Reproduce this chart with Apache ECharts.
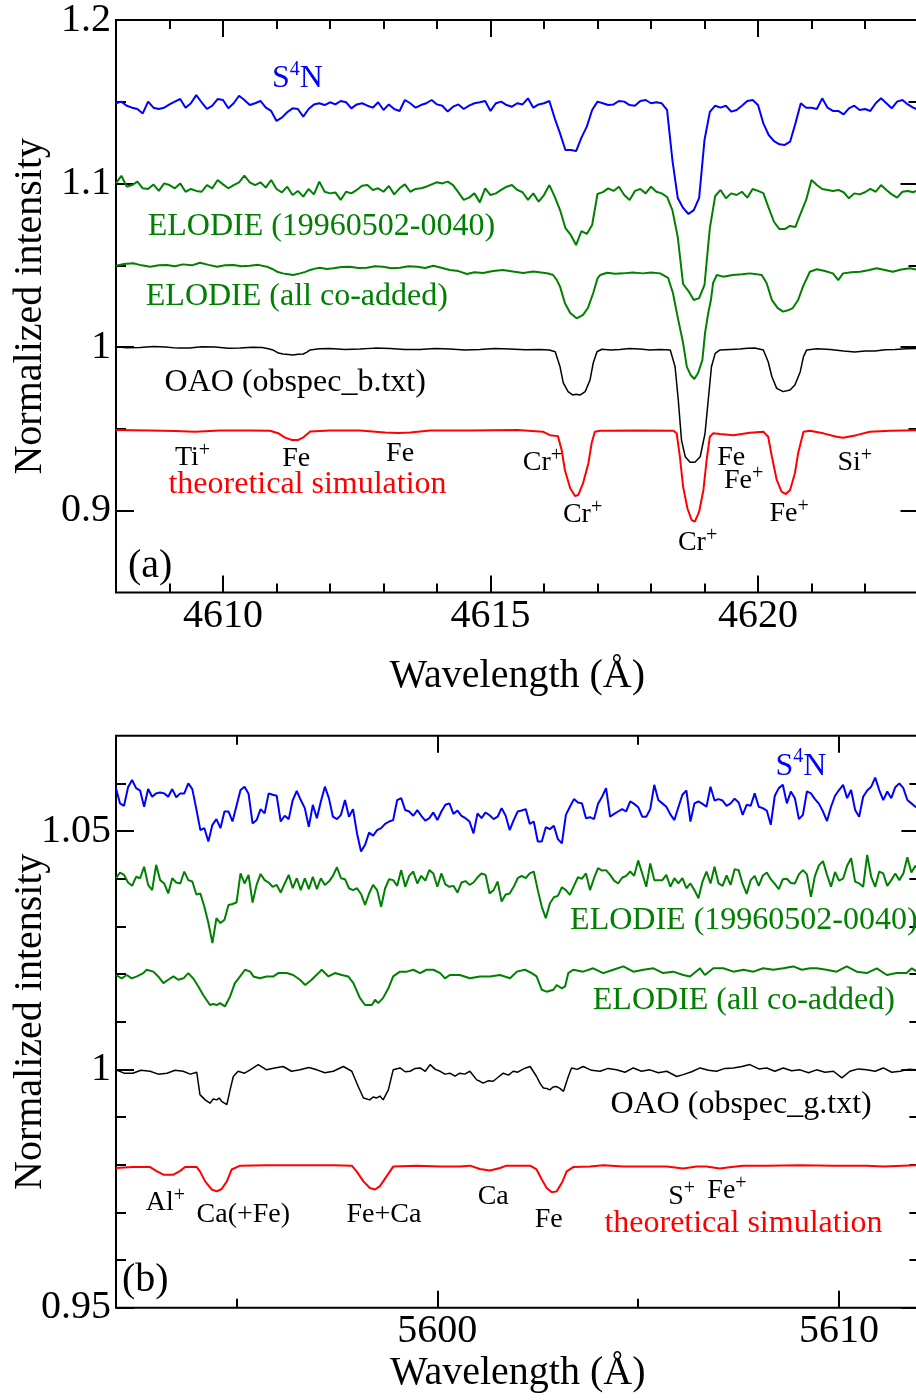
<!DOCTYPE html>
<html><head><meta charset="utf-8">
<script src="https://cdn.jsdelivr.net/npm/echarts@6/dist/echarts.min.js"></script>
<style>html,body{margin:0;padding:0;background:#fff}#c{width:916px;height:1400px}</style>
</head><body><div id="c"></div>
<script>
// ---------- Panel (a) : 4608-4623 A ----------
const wlA = [
4608,4608.1,4608.2,4608.3,4608.4,4608.5,4608.6,4608.7,4608.8,4608.9,
4609,4609.1,4609.2,4609.3,4609.4,4609.5,4609.6,4609.7,4609.8,4609.9,
4610,4610.1,4610.2,4610.3,4610.4,4610.5,4610.6,4610.7,4610.8,4610.9,
4611,4611.1,4611.2,4611.3,4611.4,4611.5,4611.6,4611.7,4611.8,4611.9,
4612,4612.1,4612.2,4612.3,4612.4,4612.5,4612.6,4612.7,4612.8,4612.9,
4613,4613.1,4613.2,4613.3,4613.4,4613.5,4613.6,4613.7,4613.8,4613.9,
4614,4614.1,4614.2,4614.3,4614.4,4614.5,4614.6,4614.7,4614.8,4614.9,
4615,4615.1,4615.2,4615.3,4615.4,4615.5,4615.6,4615.7,4615.8,4615.9,
4616,4616.1,4616.2,4616.3,4616.4,4616.5,4616.6,4616.7,4616.8,4616.9,
4617,4617.1,4617.2,4617.3,4617.4,4617.5,4617.6,4617.7,4617.8,4617.9,
4618,4618.1,4618.2,4618.3,4618.4,4618.5,4618.6,4618.7,4618.8,4618.9,
4619,4619.1,4619.2,4619.3,4619.4,4619.5,4619.6,4619.7,4619.8,4619.9,
4620,4620.1,4620.2,4620.3,4620.4,4620.5,4620.6,4620.7,4620.8,4620.9,
4621,4621.1,4621.2,4621.3,4621.4,4621.5,4621.6,4621.7,4621.8,4621.9,
4622,4622.1,4622.2,4622.3,4622.4,4622.5,4622.6,4622.7,4622.8,4622.9,
4623];
const s4nA = [
1.1491,1.1501,1.1476,1.1464,1.1456,1.1429,1.1501,1.1464,1.1456,1.1464,
1.1484,1.1501,1.1517,1.1464,1.1491,1.1541,1.1497,1.1456,1.1476,1.1517,
1.1511,1.1460,1.1491,1.1537,1.1511,1.1480,1.1491,1.1505,1.1464,1.1444,
1.1383,1.1403,1.1436,1.1460,1.1456,1.1409,1.1456,1.1484,1.1491,1.1480,
1.1497,1.1484,1.1505,1.1497,1.1460,1.1484,1.1491,1.1476,1.1464,1.1497,
1.1450,1.1484,1.1456,1.1444,1.1511,1.1491,1.1464,1.1480,1.1491,1.1511,
1.1484,1.1476,1.1440,1.1470,1.1484,1.1456,1.1476,1.1491,1.1497,1.1505,
1.1444,1.1491,1.1501,1.1480,1.1470,1.1491,1.1484,1.1521,1.1464,1.1484,
1.1491,1.1505,1.1399,1.1307,1.1205,1.1205,1.1199,1.1281,1.1348,1.1450,
1.1501,1.1491,1.1480,1.1484,1.1505,1.1501,1.1480,1.1476,1.1505,1.1511,
1.1491,1.1497,1.1491,1.1450,1.1144,1.0912,1.0851,1.0814,1.0838,1.0912,
1.1266,1.1438,1.1476,1.1464,1.1476,1.1440,1.1450,1.1476,1.1505,1.1511,
1.1480,1.1368,1.1297,1.1260,1.1240,1.1236,1.1256,1.1368,1.1491,1.1464,
1.1464,1.1456,1.1521,1.1464,1.1444,1.1444,1.1423,1.1460,1.1476,1.1450,
1.1456,1.1444,1.1491,1.1521,1.1491,1.1460,1.1501,1.1511,1.1484,1.1464,1.1450];
const elodieOneA = [
1.1001,1.1048,1.0981,1.0991,1.1012,1.0971,1.0967,1.0995,1.0955,1.1001,
1.0991,1.0971,1.1001,1.0950,1.0967,1.0955,1.0950,1.0991,1.0971,1.1022,
1.0995,1.0971,1.0991,1.1008,1.1048,1.1008,1.0991,1.1008,1.0975,1.1022,
1.0967,1.0946,1.0981,1.0930,1.0955,1.0920,1.0967,1.0934,1.1012,1.0950,
1.0940,1.0946,1.0900,1.0950,1.0940,1.0961,1.0987,1.0991,1.0961,1.0971,
1.0950,1.0985,1.0934,1.0971,1.0995,1.0950,1.0967,1.0971,1.0981,1.0995,
1.1008,1.1001,1.1012,1.0991,1.0946,1.0900,1.0914,1.0940,1.0885,1.0971,
1.0930,1.0940,1.0961,1.0981,1.0991,1.0961,1.0947,1.0900,1.0940,1.0889,
1.0930,1.0991,1.0920,1.0838,1.0728,1.0686,1.0624,1.0710,1.0692,1.0747,
1.0936,1.0948,1.0971,1.0955,1.0981,1.0930,1.0900,1.0955,1.0967,1.0940,
1.0981,1.0950,1.0940,1.0918,1.0838,1.0673,1.0386,1.0343,1.0288,1.0300,
1.0380,1.0728,1.0924,1.0961,1.0910,1.0940,1.0930,1.0950,1.0914,1.0967,
1.0955,1.0942,1.0851,1.0765,1.0722,1.0722,1.0741,1.0735,1.0820,1.0900,
1.1022,1.0991,1.0967,1.0961,1.0955,1.0961,1.0947,1.0910,1.0940,1.0934,
1.0947,1.0967,1.0950,1.0991,1.0961,1.0934,1.0914,1.0950,1.0955,1.0947,1.0961];
const elodieAllA = [
[4608.0,1.0498],[4608.15,1.0508],[4608.32,1.0513],[4608.48,1.0500],[4608.64,1.0492],[4608.8,1.0500],[4608.95,1.0502],[4609.1,1.0494],[4609.25,1.0506],[4609.42,1.0500],[4609.57,1.0516],[4609.73,1.0503],[4609.89,1.0492],[4610.04,1.0500],[4610.19,1.0502],[4610.35,1.0494],[4610.5,1.0498],[4610.66,1.0503],[4610.82,1.0492],[4610.92,1.0478],[4611.01,1.0461],[4611.12,1.0451],[4611.22,1.0446],[4611.31,1.0441],[4611.44,1.0451],[4611.54,1.0460],[4611.63,1.0472],[4611.72,1.0480],[4611.81,1.0486],[4611.94,1.0478],[4612.06,1.0482],[4612.22,1.0490],[4612.37,1.0492],[4612.53,1.0484],[4612.69,1.0486],[4612.84,1.0494],[4612.99,1.0492],[4613.15,1.0482],[4613.31,1.0486],[4613.47,1.0495],[4613.63,1.0492],[4613.78,1.0484],[4613.93,1.0498],[4614.08,1.0485],[4614.24,1.0472],[4614.4,1.0465],[4614.56,1.0447],[4614.7,1.0458],[4614.86,1.0453],[4615.05,1.0465],[4615.23,1.0472],[4615.42,1.0462],[4615.61,1.0453],[4615.8,1.0462],[4615.98,1.0455],[4616.08,1.0450],[4616.17,1.0441],[4616.24,1.0410],[4616.30,1.0370],[4616.39,1.0270],[4616.49,1.0209],[4616.61,1.0176],[4616.73,1.0197],[4616.82,1.0239],[4616.92,1.0331],[4617.0,1.0420],[4617.05,1.0441],[4617.18,1.0455],[4617.33,1.0448],[4617.48,1.0451],[4617.66,1.0456],[4617.85,1.0451],[4618.0,1.0456],[4618.17,1.0451],[4618.32,1.0423],[4618.41,1.0331],[4618.49,1.0197],[4618.60,1.0025],[4618.67,0.9879],[4618.74,0.9830],[4618.81,0.9805],[4618.88,0.9842],[4618.96,0.9921],[4619.01,1.0086],[4619.07,1.0209],[4619.12,1.0288],[4619.16,1.0392],[4619.23,1.0441],[4619.35,1.0431],[4619.53,1.0441],[4619.70,1.0446],[4619.85,1.0451],[4619.98,1.0445],[4620.07,1.0441],[4620.16,1.0392],[4620.26,1.0288],[4620.37,1.0239],[4620.47,1.0217],[4620.56,1.0225],[4620.65,1.0239],[4620.75,1.0288],[4620.84,1.0370],[4620.97,1.0461],[4621.10,1.0476],[4621.25,1.0465],[4621.40,1.0451],[4621.50,1.0410],[4621.59,1.0451],[4621.75,1.0458],[4621.91,1.0461],[4622.06,1.0470],[4622.22,1.0482],[4622.37,1.0472],[4622.52,1.0461],[4622.68,1.0475],[4622.84,1.0482],[4623.0,1.0472]];
const oaoA = [
[4608.0,1.0003],[4608.2,0.9996],[4608.45,0.9998],[4608.7,1.0004],[4608.92,1.0001],[4609.15,0.9994],[4609.38,0.9995],[4609.6,1.0002],[4609.85,1.0001],[4610.1,0.9993],[4610.32,0.9995],[4610.55,1.0000],[4610.73,0.9998],[4610.85,0.9990],[4610.93,0.9983],[4611.02,0.9966],[4611.12,0.9958],[4611.22,0.9955],[4611.31,0.9952],[4611.4,0.9957],[4611.50,0.9958],[4611.57,0.9970],[4611.63,0.9983],[4611.8,0.9990],[4612.0,0.9992],[4612.28,0.9986],[4612.56,0.9989],[4612.84,0.9994],[4613.12,0.9992],[4613.4,0.9985],[4613.68,0.9986],[4613.96,0.9992],[4614.24,0.9989],[4614.52,0.9983],[4614.80,0.9986],[4615.08,0.9991],[4615.36,0.9989],[4615.65,0.9984],[4615.93,0.9986],[4616.1,0.9983],[4616.21,0.9972],[4616.30,0.9880],[4616.36,0.9781],[4616.45,0.9728],[4616.54,0.9707],[4616.6,0.9712],[4616.67,0.9707],[4616.77,0.9728],[4616.86,0.9799],[4616.92,0.9903],[4616.99,0.9972],[4617.08,0.9987],[4617.25,0.9982],[4617.42,0.9986],[4617.6,0.9991],[4617.79,0.9989],[4617.98,0.9983],[4618.17,0.9986],[4618.36,0.9983],[4618.45,0.9880],[4618.51,0.9677],[4618.57,0.9432],[4618.64,0.9330],[4618.73,0.9296],[4618.82,0.9296],[4618.92,0.9330],[4619.01,0.9473],[4619.07,0.9677],[4619.13,0.9880],[4619.20,0.9962],[4619.29,0.9983],[4619.48,0.9986],[4619.66,0.9989],[4619.8,0.9993],[4619.94,0.9995],[4620.10,0.9983],[4620.19,0.9911],[4620.26,0.9819],[4620.35,0.9748],[4620.47,0.9728],[4620.60,0.9738],[4620.69,0.9769],[4620.79,0.9850],[4620.85,0.9942],[4620.91,0.9983],[4621.1,0.9990],[4621.35,0.9986],[4621.6,0.9977],[4621.81,0.9970],[4622.0,0.9976],[4622.19,0.9977],[4622.38,0.9984],[4622.56,0.9986],[4622.78,0.9990],[4623.0,0.9992]];
const theoryA = [
[4608.0,0.9493],[4608.64,0.9491],[4609.10,0.9487],[4609.48,0.9483],[4609.94,0.9490],[4610.50,0.9491],[4610.88,0.9489],[4611.03,0.9474],[4611.16,0.9447],[4611.29,0.9432],[4611.40,0.9432],[4611.51,0.9450],[4611.63,0.9484],[4612.0,0.9490],[4612.56,0.9490],[4613.03,0.9478],[4613.27,0.9475],[4613.50,0.9478],[4613.87,0.9490],[4614.62,0.9491],[4615.50,0.9493],[4615.98,0.9483],[4616.11,0.9462],[4616.26,0.9456],[4616.33,0.9371],[4616.39,0.9249],[4616.49,0.9137],[4616.58,0.9090],[4616.64,0.9096],[4616.73,0.9168],[4616.83,0.9290],[4616.89,0.9412],[4616.95,0.9483],[4617.05,0.9489],[4617.79,0.9490],[4618.42,0.9489],[4618.48,0.9473],[4618.54,0.9330],[4618.60,0.9147],[4618.68,0.9015],[4618.76,0.8943],[4618.82,0.8933],[4618.90,0.8994],[4618.98,0.9127],[4619.04,0.9310],[4619.10,0.9452],[4619.16,0.9473],[4619.29,0.9469],[4619.54,0.9462],[4619.85,0.9477],[4620.10,0.9483],[4620.19,0.9452],[4620.26,0.9330],[4620.35,0.9188],[4620.44,0.9116],[4620.52,0.9102],[4620.60,0.9127],[4620.69,0.9229],[4620.75,0.9351],[4620.85,0.9483],[4620.97,0.9489],[4621.22,0.9473],[4621.47,0.9452],[4621.59,0.9446],[4621.84,0.9462],[4622.09,0.9483],[4622.47,0.9489],[4623.0,0.9493]];
const xMajorA = [4610, 4615, 4620];
const xMinorA = [4609, 4611, 4612, 4613, 4614, 4616, 4617, 4618, 4619, 4621, 4622];
const yMajorA = [0.9, 1, 1.1, 1.2];
const yMinorA = [0.95, 1.05, 1.15];
// [rich text, wavelength, intensity, colour, size class]
const notesA = [
['{m|S}{q|4}{m|N}', 4611.39, 1.1639, 'blue', 'big'],
['{m|ELODIE (19960502-0040)}', 4611.84, 1.0734, 'green', 'big'],
['{m|ELODIE (all co-added)}', 4611.38, 1.0307, 'green', 'big'],
['{m|OAO (obspec_b.txt)}', 4611.35, 0.9783, 'black', 'big'],
['{m|theoretical simulation}', 4611.58, 0.9162, 'red', 'big'],
['{m|Ti}{s|+}', 4609.43, 0.9325, 'black', 'el'],
['{m|Fe}', 4611.37, 0.9319, 'black', 'el'],
['{m|Fe}', 4613.31, 0.9350, 'black', 'el'],
['{m|Cr}{s|+}', 4615.97, 0.9292, 'black', 'el'],
['{m|Cr}{s|+}', 4616.72, 0.8974, 'black', 'el'],
['{m|Cr}{s|+}', 4618.87, 0.8803, 'black', 'el'],
['{m|Fe}', 4619.50, 0.9325, 'black', 'el'],
['{m|Fe}{s|+}', 4619.73, 0.9182, 'black', 'el'],
['{m|Fe}{s|+}', 4620.58, 0.8980, 'black', 'el'],
['{m|Si}{s|+}', 4621.81, 0.9292, 'black', 'el'],
['{m|(a)}', 4608.64, 0.8662, 'black', 'tag']];

// ---------- Panel (b) : 5592-5612 A ----------
const wlB = [
5592,5592.1,5592.2,5592.3,5592.4,5592.5,5592.6,5592.7,5592.8,5592.9,
5593,5593.1,5593.2,5593.3,5593.4,5593.5,5593.6,5593.7,5593.8,5593.9,
5594,5594.1,5594.2,5594.3,5594.4,5594.5,5594.6,5594.7,5594.8,5594.9,
5595,5595.1,5595.2,5595.3,5595.4,5595.5,5595.6,5595.7,5595.8,5595.9,
5596,5596.1,5596.2,5596.3,5596.4,5596.5,5596.6,5596.7,5596.8,5596.9,
5597,5597.1,5597.2,5597.3,5597.4,5597.5,5597.6,5597.7,5597.8,5597.9,
5598,5598.1,5598.2,5598.3,5598.4,5598.5,5598.6,5598.7,5598.8,5598.9,
5599,5599.1,5599.2,5599.3,5599.4,5599.5,5599.6,5599.7,5599.8,5599.9,
5600,5600.1,5600.2,5600.3,5600.4,5600.5,5600.6,5600.7,5600.8,5600.9,
5601,5601.1,5601.2,5601.3,5601.4,5601.5,5601.6,5601.7,5601.8,5601.9,
5602,5602.1,5602.2,5602.3,5602.4,5602.5,5602.6,5602.7,5602.8,5602.9,
5603,5603.1,5603.2,5603.3,5603.4,5603.5,5603.6,5603.7,5603.8,5603.9,
5604,5604.1,5604.2,5604.3,5604.4,5604.5,5604.6,5604.7,5604.8,5604.9,
5605,5605.1,5605.2,5605.3,5605.4,5605.5,5605.6,5605.7,5605.8,5605.9,
5606,5606.1,5606.2,5606.3,5606.4,5606.5,5606.6,5606.7,5606.8,5606.9,
5607,5607.1,5607.2,5607.3,5607.4,5607.5,5607.6,5607.7,5607.8,5607.9,
5608,5608.1,5608.2,5608.3,5608.4,5608.5,5608.6,5608.7,5608.8,5608.9,
5609,5609.1,5609.2,5609.3,5609.4,5609.5,5609.6,5609.7,5609.8,5609.9,
5610,5610.1,5610.2,5610.3,5610.4,5610.5,5610.6,5610.7,5610.8,5610.9,
5611,5611.1,5611.2,5611.3,5611.4,5611.5,5611.6,5611.7,5611.8,5611.9,
5612];
const s4nB = [
1.0590,1.0558,1.0553,1.0592,1.0607,1.0590,1.0585,1.0551,1.0588,1.0572,
1.0579,1.0581,1.0579,1.0572,1.0588,1.0571,1.0579,1.0579,1.0600,1.0588,
1.0546,1.0502,1.0506,1.0478,1.0513,1.0525,1.0506,1.0541,1.0541,1.0520,
1.0553,1.0586,1.0593,1.0578,1.0516,1.0523,1.0546,1.0537,1.0579,1.0576,
1.0574,1.0520,1.0532,1.0525,1.0565,1.0584,1.0565,1.0548,1.0509,1.0555,
1.0527,1.0562,1.0593,1.0569,1.0530,1.0525,1.0534,1.0565,1.0530,1.0546,
1.0495,1.0457,1.0471,1.0497,1.0490,1.0502,1.0506,1.0515,1.0520,1.0523,
1.0565,1.0569,1.0544,1.0541,1.0532,1.0544,1.0532,1.0522,1.0527,1.0539,
1.0523,1.0541,1.0555,1.0558,1.0536,1.0543,1.0532,1.0527,1.0520,1.0495,
1.0537,1.0527,1.0539,1.0533,1.0525,1.0530,1.0548,1.0532,1.0502,1.0523,
1.0541,1.0543,1.0546,1.0515,1.0520,1.0478,1.0478,1.0508,1.0504,1.0511,
1.0483,1.0474,1.0534,1.0551,1.0567,1.0560,1.0558,1.0527,1.0529,1.0525,
1.0557,1.0572,1.0590,1.0530,1.0536,1.0541,1.0546,1.0541,1.0562,1.0557,
1.0550,1.0530,1.0530,1.0546,1.0597,1.0565,1.0558,1.0551,1.0535,1.0523,
1.0550,1.0576,1.0585,1.0520,1.0558,1.0562,1.0557,1.0551,1.0593,1.0564,
1.0567,1.0564,1.0553,1.0558,1.0568,1.0560,1.0534,1.0555,1.0553,1.0579,
1.0551,1.0548,1.0543,1.0513,1.0574,1.0590,1.0597,1.0558,1.0583,1.0569,
1.0525,1.0534,1.0583,1.0579,1.0567,1.0557,1.0541,1.0521,1.0551,1.0574,
1.0586,1.0597,1.0569,1.0586,1.0544,1.0530,1.0572,1.0585,1.0593,1.0612,
1.0586,1.0565,1.0583,1.0569,1.0592,1.0600,1.0590,1.0565,1.0558,1.0551,1.0548];
const elodieOneB = [
1.0401,1.0413,1.0408,1.0392,1.0385,1.0404,1.0401,1.0425,1.0387,1.0376,
1.0429,1.0397,1.0390,1.0369,1.0401,1.0392,1.0390,1.0415,1.0397,1.0394,
1.0367,1.0369,1.0341,1.0307,1.0265,1.0317,1.0307,1.0314,1.0345,1.0347,
1.0350,1.0411,1.0390,1.0408,1.0350,1.0387,1.0410,1.0397,1.0392,1.0383,
1.0387,1.0371,1.0390,1.0408,1.0380,1.0401,1.0376,1.0401,1.0378,1.0404,
1.0378,1.0401,1.0387,1.0394,1.0406,1.0424,1.0401,1.0399,1.0380,1.0376,
1.0380,1.0368,1.0345,1.0369,1.0387,1.0376,1.0341,1.0380,1.0399,1.0397,
1.0385,1.0418,1.0383,1.0406,1.0415,1.0390,1.0406,1.0396,1.0418,1.0411,
1.0383,1.0411,1.0388,1.0383,1.0385,1.0371,1.0392,1.0395,1.0387,1.0392,
1.0403,1.0411,1.0408,1.0369,1.0376,1.0394,1.0352,1.0367,1.0369,1.0383,
1.0401,1.0406,1.0401,1.0411,1.0415,1.0376,1.0341,1.0317,1.0348,1.0361,
1.0364,1.0382,1.0376,1.0366,1.0385,1.0403,1.0400,1.0411,1.0376,1.0401,
1.0422,1.0417,1.0418,1.0408,1.0396,1.0390,1.0402,1.0406,1.0415,1.0406,
1.0438,1.0411,1.0383,1.0432,1.0397,1.0397,1.0397,1.0408,1.0383,1.0401,
1.0390,1.0401,1.0380,1.0390,1.0376,1.0359,1.0394,1.0415,1.0390,1.0425,
1.0390,1.0385,1.0407,1.0387,1.0420,1.0418,1.0389,1.0368,1.0397,1.0406,
1.0385,1.0406,1.0413,1.0399,1.0389,1.0378,1.0399,1.0400,1.0391,1.0390,
1.0409,1.0418,1.0409,1.0362,1.0406,1.0428,1.0437,1.0408,1.0383,1.0414,
1.0396,1.0400,1.0427,1.0443,1.0394,1.0390,1.0383,1.0450,1.0404,1.0383,
1.0415,1.0411,1.0385,1.0397,1.0411,1.0397,1.0411,1.0445,1.0413,1.0427,1.0418];
const elodieAllB = [
[5592.0,1.0198],[5592.14,1.0191],[5592.27,1.0198],[5592.39,1.0191],[5592.52,1.0195],[5592.68,1.0202],[5592.76,1.0209],[5592.93,1.0205],[5593.05,1.0195],[5593.18,1.0181],[5593.30,1.0188],[5593.43,1.0195],[5593.55,1.0188],[5593.68,1.0191],[5593.80,1.0202],[5593.92,1.0191],[5594.05,1.0174],[5594.17,1.0156],[5594.34,1.0135],[5594.42,1.0137],[5594.51,1.0135],[5594.59,1.0139],[5594.71,1.0132],[5594.84,1.0153],[5594.96,1.0181],[5595.09,1.0195],[5595.21,1.0209],[5595.34,1.0205],[5595.42,1.0195],[5595.58,1.0191],[5595.75,1.0195],[5595.92,1.0195],[5596.04,1.0202],[5596.25,1.0202],[5596.41,1.0198],[5596.58,1.0188],[5596.71,1.0177],[5596.87,1.0188],[5597.04,1.0202],[5597.12,1.0209],[5597.29,1.0195],[5597.45,1.0202],[5597.62,1.0198],[5597.78,1.0195],[5597.91,1.0181],[5598.07,1.0150],[5598.20,1.0135],[5598.37,1.0135],[5598.45,1.0146],[5598.53,1.0139],[5598.65,1.0150],[5598.78,1.0170],[5598.90,1.0195],[5599.07,1.0205],[5599.24,1.0205],[5599.40,1.0209],[5599.57,1.0202],[5599.73,1.0209],[5599.90,1.0209],[5600.07,1.0202],[5600.19,1.0191],[5600.31,1.0198],[5600.56,1.0198],[5600.81,1.0191],[5601.06,1.0195],[5601.31,1.0195],[5601.56,1.0198],[5601.81,1.0191],[5601.98,1.0205],[5602.18,1.0209],[5602.35,1.0202],[5602.47,1.0195],[5602.60,1.0167],[5602.72,1.0163],[5602.89,1.0167],[5602.97,1.0177],[5603.10,1.0170],[5603.18,1.0174],[5603.26,1.0202],[5603.38,1.0209],[5603.63,1.0205],[5603.88,1.0212],[5604.13,1.0202],[5604.38,1.0209],[5604.63,1.0216],[5604.88,1.0205],[5605.13,1.0209],[5605.38,1.0212],[5605.62,1.0202],[5605.87,1.0205],[5606.12,1.0198],[5606.29,1.0195],[5606.54,1.0212],[5606.66,1.0198],[5606.87,1.0212],[5607.12,1.0212],[5607.37,1.0205],[5607.62,1.0209],[5607.87,1.0205],[5608.11,1.0212],[5608.36,1.0209],[5608.61,1.0212],[5608.86,1.0216],[5609.07,1.0209],[5609.28,1.0212],[5609.44,1.0212],[5609.69,1.0209],[5609.94,1.0205],[5610.19,1.0216],[5610.44,1.0205],[5610.69,1.0202],[5610.94,1.0212],[5611.19,1.0198],[5611.43,1.0202],[5611.68,1.0202],[5611.81,1.0212],[5612.0,1.0202]];
const oaoB = [
[5592.0,0.9999],[5592.2,0.9992],[5592.42,0.9992],[5592.62,0.9998],[5592.85,0.9996],[5593.05,0.9990],[5593.27,0.9992],[5593.47,0.9998],[5593.67,0.9996],[5593.85,0.9990],[5594.01,0.9994],[5594.09,0.9947],[5594.22,0.9936],[5594.34,0.9929],[5594.42,0.9938],[5594.51,0.9936],[5594.57,0.9940],[5594.63,0.9933],[5594.76,0.9926],[5594.84,0.9957],[5594.92,0.9985],[5595.04,0.9996],[5595.2,0.9992],[5595.34,0.9999],[5595.54,1.0010],[5595.75,0.9999],[5595.95,1.0003],[5596.16,1.0006],[5596.37,0.9996],[5596.58,0.9999],[5596.8,1.0004],[5597.0,0.9999],[5597.2,0.9993],[5597.41,0.9996],[5597.66,1.0006],[5597.87,0.9996],[5598.03,0.9964],[5598.16,0.9940],[5598.32,0.9936],[5598.4,0.9942],[5598.49,0.9940],[5598.57,0.9944],[5598.65,0.9936],[5598.78,0.9957],[5598.90,0.9999],[5599.07,1.0003],[5599.2,0.9995],[5599.32,0.9996],[5599.45,1.0002],[5599.57,1.0003],[5599.7,0.9996],[5599.82,1.0010],[5599.95,1.0000],[5600.07,0.9996],[5600.19,0.9990],[5600.31,0.9992],[5600.44,0.9986],[5600.56,0.9992],[5600.68,0.9990],[5600.81,0.9996],[5600.98,0.9978],[5601.06,0.9975],[5601.14,0.9971],[5601.26,0.9976],[5601.39,0.9975],[5601.52,0.9984],[5601.64,0.9992],[5601.77,0.9988],[5601.89,0.9996],[5602.0,0.9994],[5602.10,0.9999],[5602.2,1.0003],[5602.31,1.0006],[5602.47,0.9985],[5602.56,0.9970],[5602.64,0.9961],[5602.72,0.9960],[5602.80,0.9957],[5602.88,0.9963],[5602.97,0.9964],[5603.05,0.9960],[5603.14,0.9954],[5603.26,0.9985],[5603.34,1.0003],[5603.48,1.0000],[5603.63,1.0006],[5603.84,0.9998],[5604.05,0.9996],[5604.25,1.0002],[5604.46,0.9999],[5604.67,0.9994],[5604.88,1.0003],[5605.08,0.9996],[5605.29,0.9999],[5605.5,0.9993],[5605.71,0.9996],[5605.96,0.9985],[5606.12,0.9989],[5606.33,0.9995],[5606.54,1.0003],[5606.75,0.9998],[5606.95,0.9996],[5607.16,1.0002],[5607.37,1.0003],[5607.58,1.0006],[5607.78,1.0010],[5608.0,1.0001],[5608.2,1.0003],[5608.4,0.9996],[5608.61,1.0003],[5608.82,0.9997],[5609.03,0.9999],[5609.24,0.9993],[5609.44,0.9999],[5609.65,0.9994],[5609.86,0.9996],[5610.07,0.9982],[5610.27,0.9996],[5610.48,1.0001],[5610.69,0.9999],[5610.9,0.9996],[5611.10,1.0003],[5611.31,0.9994],[5611.52,0.9996],[5611.72,1.0000],[5611.92,0.9999],[5612.0,0.9997]];
const theoryB = [
[5592.0,0.9793],[5592.42,0.9795],[5592.85,0.9795],[5593.02,0.9786],[5593.18,0.9779],[5593.43,0.9779],[5593.6,0.9787],[5593.72,0.9795],[5594.01,0.9795],[5594.09,0.9786],[5594.22,0.9765],[5594.38,0.9748],[5594.51,0.9744],[5594.63,0.9749],[5594.76,0.9765],[5594.88,0.9790],[5595.09,0.9798],[5595.75,0.9799],[5596.58,0.9799],[5597.41,0.9799],[5597.87,0.9798],[5597.99,0.9786],[5598.16,0.9765],[5598.32,0.9751],[5598.45,0.9748],[5598.57,0.9755],[5598.74,0.9776],[5598.90,0.9796],[5599.49,0.9798],[5600.07,0.9796],[5600.56,0.9796],[5600.81,0.9798],[5601.06,0.9791],[5601.31,0.9788],[5601.56,0.9793],[5601.72,0.9798],[5602.31,0.9798],[5602.47,0.9790],[5602.6,0.9769],[5602.72,0.9751],[5602.85,0.9742],[5602.97,0.9744],[5603.10,0.9762],[5603.22,0.9786],[5603.38,0.9795],[5603.80,0.9796],[5604.13,0.9799],[5604.63,0.9796],[5605.29,0.9796],[5605.71,0.9796],[5606.12,0.9792],[5606.45,0.9796],[5606.70,0.9796],[5607.03,0.9792],[5607.32,0.9795],[5607.62,0.9798],[5608.2,0.9798],[5609.03,0.9799],[5609.86,0.9798],[5610.69,0.9798],[5611.10,0.9796],[5612.0,0.9799]];
const xMajorB = [5600, 5610];
const xMinorB = [5595, 5605];
const yMajorB = [0.95, 1, 1.05];
const yMinorB = [0.96, 0.97, 0.98, 0.99, 1.01, 1.02, 1.03, 1.04, 1.06];
const notesB = [
['{m|S}{q|4}{m|N}', 5609.05, 1.0636, 'blue', 'big'],
['{m|ELODIE (19960502-0040)}', 5607.63, 1.0312, 'green', 'big'],
['{m|ELODIE (all co-added)}', 5607.63, 1.0144, 'green', 'big'],
['{m|OAO (obspec_g.txt)}', 5607.56, 0.9927, 'black', 'big'],
['{m|theoretical simulation}', 5607.62, 0.9677, 'red', 'big'],
['{m|Al}{s|+}', 5593.23, 0.9720, 'black', 'el'],
['{m|Ca(+Fe)}', 5595.17, 0.9695, 'black', 'el'],
['{m|Fe+Ca}', 5598.67, 0.9695, 'black', 'el'],
['{m|Ca}', 5601.39, 0.9734, 'black', 'el'],
['{m|Fe}', 5602.77, 0.9685, 'black', 'el'],
['{m|S}{s|+}', 5606.08, 0.9734, 'black', 'el'],
['{m|Fe}{s|+}', 5607.21, 0.9746, 'black', 'el'],
['{m|(b)}', 5592.73, 0.9557, 'black', 'tag']];

// ---------- styling ----------
const FONT = 'Liberation Serif';
const COL = {blue:'#0000ff', green:'#008000', black:'#000000', red:'#ff0000'};
const tickStyle = {color:'#000', width:2};
const plainNum = v => String(Math.round(v * 1000) / 1000);

function pairs(xs, ys){ const n = Math.min(xs.length, ys.length); const o = []; for (let i = 0; i < n; i++) o.push([xs[i], ys[i]]); return o; }

function xAxesFor(gi, min, max, major, minor, nameGap){
  const base = {gridIndex:gi, type:'value', min:min, max:max, splitLine:{show:false}, axisLine:{show:false, onZero:false}};
  const mk = (pos, vals, len, labels) => Object.assign({}, base, {
    position:pos,
    axisTick:{show:true, inside:true, length:len, customValues:vals, lineStyle:tickStyle},
    axisLabel: labels ? {show:true, customValues:vals, margin:4, color:'#000', fontSize:40, fontFamily:FONT, formatter:plainNum} : {show:false}
  });
  const main = mk('bottom', major, 17, true);
  main.name = 'Wavelength (Å)'; main.nameLocation = 'middle'; main.nameGap = nameGap; main.nameMoveOverlap = false;
  main.nameTextStyle = {fontSize:40, color:'#000', fontFamily:FONT};
  return [main, mk('bottom', minor, 9, false), mk('top', major, 17, false), mk('top', minor, 9, false)];
}
function yAxesFor(gi, min, max, major, minor){
  const base = {gridIndex:gi, type:'value', min:min, max:max, splitLine:{show:false}, axisLine:{show:false, onZero:false}};
  const mk = (pos, vals, len, labels) => Object.assign({}, base, {
    position:pos,
    axisTick:{show:true, inside:true, length:len, customValues:vals, lineStyle:tickStyle},
    axisLabel: labels ? {show:true, customValues:vals, margin:5, color:'#000', fontSize:40, fontFamily:FONT, formatter:plainNum} : {show:false}
  });
  const main = mk('left', major, 18, true);
  main.name = 'Normalized intensity'; main.nameLocation = 'middle'; main.nameGap = 66; main.nameMoveOverlap = false;
  main.nameTextStyle = {fontSize:40, color:'#000', fontFamily:FONT};
  return [main, mk('left', minor, 10, false), mk('right', major, 18, false), mk('right', minor, 10, false)];
}
function line(data, color, width, xi, yi){
  return {type:'line', xAxisIndex:xi, yAxisIndex:yi, data:data, showSymbol:false, symbol:'none',
    lineStyle:{color:color, width:width, opacity:1}, itemStyle:{color:color}, silent:true, animation:false, clip:true};
}
function notes(list, xi, yi){
  const data = list.map(n => {
    const c = COL[n[3]];
    const fs = n[4] === 'big' ? 32 : (n[4] === 'tag' ? 40 : 28);
    const lh = n[4] === 'big' ? 38 : (n[4] === 'tag' ? 44 : 34);
    return {value:[n[1], n[2]], label:{show:true, position:'inside', formatter:n[0], color:c, opacity:1,
      textBorderWidth:0,
      rich:{
        m:{fontSize:fs, lineHeight:lh, fontFamily:FONT, color:c, opacity:1},
        s:{fontSize:20, lineHeight:21, verticalAlign:'top', fontFamily:FONT, color:c, opacity:1},
        q:{fontSize:20, lineHeight:30, verticalAlign:'top', fontFamily:FONT, color:c, opacity:1}
      }}};
  });
  return {type:'scatter', xAxisIndex:xi, yAxisIndex:yi, data:data, symbolSize:1,
    itemStyle:{color:'rgba(0,0,0,0)', opacity:1}, silent:true, animation:false, clip:false, z:10};
}

const chart = echarts.init(document.getElementById('c'), null, {renderer:'canvas'});
chart.setOption({
  animation:false,
  backgroundColor:'#ffffff',
  textStyle:{fontFamily:FONT, color:'#000'},
  grid:[
    {left:116, top:20, width:802.5, height:572.5, show:true, borderColor:'#000', borderWidth:2, containLabel:false, outerBoundsMode:'none'},
    {left:116, top:735.7, width:803.4, height:572, show:true, borderColor:'#000', borderWidth:2, containLabel:false, outerBoundsMode:'none'}
  ],
  xAxis: xAxesFor(0, 4608, 4623, xMajorA, xMinorA, 63.5).concat(xAxesFor(1, 5592, 5612, xMajorB, xMinorB, 46)),
  yAxis: yAxesFor(0, 0.85, 1.2, yMajorA, yMinorA).concat(yAxesFor(1, 0.95, 1.07, yMajorB, yMinorB)),
  series:[
    line(pairs(wlA, s4nA), COL.blue, 2, 0, 0),
    line(pairs(wlA, elodieOneA), COL.green, 2, 0, 0),
    line(elodieAllA, COL.green, 2, 0, 0),
    line(oaoA, COL.black, 1.5, 0, 0),
    line(theoryA, COL.red, 2, 0, 0),
    notes(notesA, 0, 0),
    line(pairs(wlB, s4nB), COL.blue, 2, 4, 4),
    line(pairs(wlB, elodieOneB), COL.green, 2, 4, 4),
    line(elodieAllB, COL.green, 2, 4, 4),
    line(oaoB, COL.black, 1.5, 4, 4),
    line(theoryB, COL.red, 2, 4, 4),
    notes(notesB, 4, 4)
  ]
});
</script></body></html>
